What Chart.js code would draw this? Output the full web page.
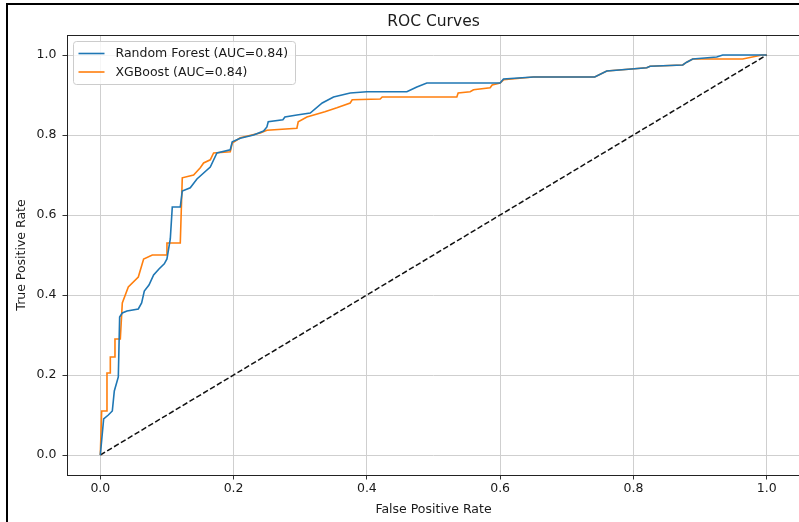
<!DOCTYPE html>
<html>
<head>
<meta charset="utf-8">
<title>ROC Curves</title>
<script src="https://cdn.jsdelivr.net/npm/chart.js@4.4.0/dist/chart.umd.min.js"></script>
<style>
  html, body { margin: 0; padding: 0; background: #fff; }
  #wrap { position: relative; width: 799px; height: 522px; overflow: hidden; }
  #roc { position: absolute; left: 0; top: 0; }
  /* dark frame round the screenshot (cropped at right / bottom) */
  #frame {
    position: absolute; left: 6px; top: 3px; width: 900px; height: 600px;
    border-left: 2px solid #000; border-top: 2px solid #000; pointer-events: none;
  }
</style>
</head>
<body>
<div id="wrap">
  <canvas id="roc" width="812" height="522"></canvas>
  <div id="frame"></div>
</div>
<script>
// ── Data ────────────────────────────────────────────────────────────── //
var RF_LABEL  = 'Random Forest (AUC=0.84)';
var XGB_LABEL = 'XGBoost (AUC=0.84)';

var RF_FPR = [0, 0.005, 0.012, 0.018, 0.021, 0.027, 0.029, 0.033, 0.04, 0.057, 0.062, 0.066, 0.073,
  0.08, 0.088, 0.096, 0.1, 0.105, 0.108, 0.12, 0.123, 0.135, 0.145, 0.165, 0.175, 0.195, 0.198,
  0.21, 0.23, 0.245, 0.25, 0.252, 0.274, 0.277, 0.295, 0.315, 0.333, 0.35, 0.375, 0.4, 0.46,
  0.475, 0.49, 0.6, 0.605, 0.65, 0.742, 0.76, 0.82, 0.825, 0.874, 0.88, 0.889, 0.925, 0.934, 1.0];
var RF_TPR = [0, 0.09, 0.1, 0.11, 0.16, 0.195, 0.345, 0.355, 0.36, 0.365, 0.38, 0.41, 0.425,
  0.45, 0.465, 0.478, 0.49, 0.54, 0.62, 0.62, 0.66, 0.668, 0.69, 0.72, 0.755, 0.763, 0.783,
  0.792, 0.8, 0.81, 0.82, 0.833, 0.838, 0.845, 0.85, 0.855, 0.88, 0.895, 0.905, 0.908, 0.908,
  0.92, 0.93, 0.93, 0.94, 0.945, 0.945, 0.96, 0.968, 0.972, 0.975, 0.982, 0.99, 0.995, 1.0, 1.0];

var XGB_FPR = [0, 0.002, 0.01, 0.01, 0.015, 0.015, 0.022, 0.022, 0.03, 0.033, 0.042, 0.057, 0.065,
  0.078, 0.1, 0.1, 0.12, 0.123, 0.14, 0.15, 0.155, 0.165, 0.17, 0.195, 0.198, 0.21, 0.24, 0.25,
  0.295, 0.297, 0.31, 0.337, 0.355, 0.375, 0.378, 0.42, 0.423, 0.535, 0.537, 0.555, 0.56, 0.585,
  0.588, 0.6, 0.605, 0.65, 0.742, 0.76, 0.82, 0.825, 0.874, 0.88, 0.889, 0.964, 0.993, 1.0];
var XGB_TPR = [0, 0.11, 0.11, 0.205, 0.205, 0.245, 0.245, 0.29, 0.29, 0.38, 0.42, 0.445, 0.49,
  0.5, 0.5, 0.53, 0.53, 0.693, 0.7, 0.718, 0.73, 0.738, 0.755, 0.758, 0.78, 0.793, 0.805, 0.812,
  0.817, 0.833, 0.845, 0.858, 0.868, 0.88, 0.888, 0.89, 0.895, 0.895, 0.905, 0.908, 0.913, 0.918,
  0.925, 0.93, 0.938, 0.945, 0.945, 0.96, 0.968, 0.972, 0.975, 0.982, 0.99, 0.99, 1.0, 1.0];

var CHANCE_FPR = [0, 1];
var CHANCE_TPR = [0, 1];

var X_TICKS = [0, 0.2, 0.4, 0.6, 0.8, 1.0];
var Y_TICKS = [0, 0.2, 0.4, 0.6, 0.8, 1.0];

(function () {
  'use strict';

  var FONT = "'DejaVu Sans', sans-serif";
  var TEXT = '#1a1a1a';

  function zip(xs, ys) {
    return xs.map(function (x, i) { return { x: x, y: ys[i] }; });
  }

  // ── Plugin: full box of spines + matplotlib style legend ─────────────── //
  var mplFrame = {
    id: 'mplFrame',
    afterDatasetsDraw: function (chart) {
      var ctx = chart.ctx, a = chart.chartArea;
      ctx.save();
      ctx.strokeStyle = '#222';
      ctx.lineWidth = 1;
      ctx.strokeRect(Math.round(a.left) + 0.5, Math.round(a.top) + 0.5,
        Math.round(a.right - a.left), Math.round(a.bottom - a.top));

      // legend, upper left inside the axes
      var items = chart.data.datasets.filter(function (d) { return d.label.charAt(0) !== '_'; });
      ctx.font = '12.5px ' + FONT;
      var pad = 5, handle = 26, gap = 11, rowH = 18.5;
      var textW = Math.max.apply(null, items.map(function (d) { return ctx.measureText(d.label).width; }));
      var bx = Math.round(a.left) + 6.5, by = Math.round(a.top) + 6.5;
      var bw = Math.round(pad + handle + gap + textW + pad + 2);
      var bh = Math.round(pad * 2 + 14 + rowH * (items.length - 1));

      ctx.beginPath();
      ctx.roundRect(bx, by, bw, bh, 3);
      ctx.fillStyle = 'rgba(255,255,255,0.8)';
      ctx.fill();
      ctx.strokeStyle = '#cccccc';
      ctx.stroke();

      items.forEach(function (d, i) {
        var cy = by + pad + 7 + i * rowH;
        ctx.beginPath();
        ctx.moveTo(bx + pad, cy);
        ctx.lineTo(bx + pad + handle, cy);
        ctx.strokeStyle = d.borderColor;
        ctx.lineWidth = d.borderWidth;
        ctx.stroke();
        ctx.fillStyle = TEXT;
        ctx.textBaseline = 'middle';
        ctx.textAlign = 'left';
        ctx.fillText(d.label, bx + pad + handle + gap, cy + 0.5);
      });
      ctx.restore();
    }
  };

  function fixedTicks(values) {
    return function (scale) {
      scale.ticks = values.map(function (v) { return { value: v }; });
    };
  }

  var tickFont = { family: FONT, size: 12.5 };
  var gridOpts = { color: '#cfcfcf', lineWidth: 1, tickColor: '#333', tickLength: 4.5 };

  new Chart(document.getElementById('roc').getContext('2d'), {
    type: 'line',
    data: {
      datasets: [
        {
          label: RF_LABEL, data: zip(RF_FPR, RF_TPR),
          borderColor: '#1f77b4', borderWidth: 1.6, pointRadius: 0, tension: 0, fill: false,
        },
        {
          label: XGB_LABEL, data: zip(XGB_FPR, XGB_TPR),
          borderColor: '#ff7f0e', borderWidth: 1.6, pointRadius: 0, tension: 0, fill: false,
        },
        {
          label: '_chance', data: zip(CHANCE_FPR, CHANCE_TPR),
          borderColor: '#111', borderWidth: 1.5, borderDash: [5.5, 2.5], pointRadius: 0, fill: false,
        },
      ],
    },
    options: {
      responsive: false,
      animation: false,
      layout: { padding: { left: 0, right: 12, top: 0, bottom: 0 } },
      plugins: {
        legend: { display: false },
        tooltip: { enabled: false },
        title: {
          display: true, text: 'ROC Curves', fullSize: false, color: TEXT,
          font: { family: FONT, size: 15.5, weight: 'normal' },
          padding: { top: 12.7, bottom: 3.7 },
        },
      },
      scales: {
        x: {
          type: 'linear', min: -0.05, max: 1.05,
          afterBuildTicks: fixedTicks(X_TICKS),
          afterFit: function (s) { s.height = 47; },
          ticks: {
            font: tickFont, color: TEXT, padding: 2, maxRotation: 0,
            callback: function (v) { return v.toFixed(1); },
          },
          grid: gridOpts,
          border: { display: false },
          title: {
            display: true, text: 'False Positive Rate', color: TEXT,
            font: { family: FONT, size: 12.5 }, padding: { top: 0, bottom: 5.2 },
          },
        },
        y: {
          type: 'linear', min: -0.05, max: 1.05,
          afterBuildTicks: fixedTicks(Y_TICKS),
          afterFit: function (s) { s.width = 67; },
          ticks: {
            font: tickFont, color: TEXT, padding: 6,
            callback: function (v) { return v.toFixed(1); },
          },
          grid: gridOpts,
          border: { display: false },
          title: {
            display: true, text: 'True Positive Rate', color: TEXT,
            font: { family: FONT, size: 12.5 }, padding: { top: 14.5, bottom: 0 },
          },
        },
      },
    },
    plugins: [mplFrame],
  });
})();
</script>
</body>
</html>
